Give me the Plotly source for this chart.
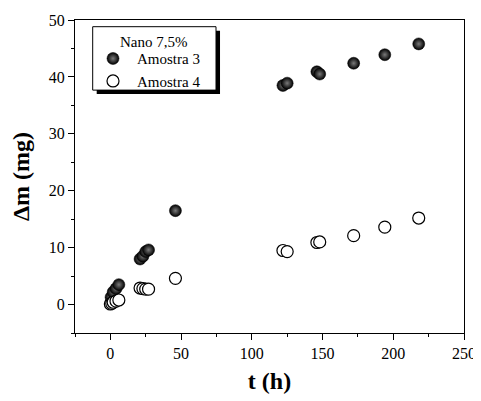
import plotly.graph_objects as go

t3 = [0.5, 2, 4, 6, 21, 23, 25, 27, 46, 122, 125, 146, 148, 172, 194, 218]
m3 = [1.3, 2.2, 2.8, 3.5, 8.0, 8.5, 9.3, 9.6, 16.5, 38.5, 38.9, 40.9, 40.5, 42.4, 43.9, 45.8]
t4 = [0, 1, 2, 4, 6, 21, 23, 25, 27, 46, 122, 125, 146, 148, 172, 194, 218]
m4 = [0.1, 0.2, 0.4, 0.6, 0.8, 2.9, 2.8, 2.7, 2.7, 4.6, 9.5, 9.3, 10.9, 11.0, 12.1, 13.6, 15.2]
legend_title = "Nano 7,5%"

font = "Liberation Serif"

fig = go.Figure()
fig.add_trace(go.Scatter(
    x=t3, y=m3, mode="markers", name="Amostra 3",
    marker=dict(size=12, color="#000000", line=dict(color="#000000", width=0.5),
                gradient=dict(type="radial", color="#7a7a7a")),
))
fig.add_trace(go.Scatter(
    x=t4, y=m4, mode="markers", name="Amostra 4",
    marker=dict(size=12, color="#ffffff", line=dict(color="#000000", width=1.2)),
))

# legend shadow and frame
fig.add_shape(type="rect", xref="paper", yref="paper",
              x0=0.0558, x1=0.3728, y0=0.7636, y1=0.9658,
              fillcolor="black", line=dict(width=0), layer="above")
fig.add_shape(type="rect", xref="paper", yref="paper",
              x0=0.0455, x1=0.3625, y0=0.776, y1=0.9786,
              fillcolor="white", line=dict(color="black", width=1), layer="above")
fig.add_annotation(text=legend_title, xref="paper", yref="paper",
                   x=0.204, y=0.9307, xanchor="center", yanchor="middle",
                   showarrow=False, font=dict(family=font, size=15, color="black"))

# page has an 8px body margin, so the figure is 8px smaller and left/top margins shifted
fig.update_layout(
    width=473, height=393,
    margin=dict(l=67, r=17, t=12, b=68),
    paper_bgcolor="white", plot_bgcolor="white",
    font=dict(family=font, size=16, color="black"),
    showlegend=True,
    legend=dict(
        x=0.036, y=0.929, xanchor="left", yanchor="top",
        bgcolor="rgba(0,0,0,0)", borderwidth=0,
        font=dict(family=font, size=15, color="black"),
        itemwidth=38, tracegroupgap=0,
    ),
    xaxis=dict(
        range=[-25, 250], tickvals=[0, 50, 100, 150, 200, 250], automargin=False,
        showgrid=False, zeroline=False, showline=True, linecolor="black", linewidth=1,
        mirror=True, ticks="outside", ticklen=6, tickwidth=1, tickcolor="black",
        minor=dict(tickvals=[-25, 25, 75, 125, 175, 225], ticks="outside", ticklen=3,
                   tickcolor="black", tickwidth=1),
        title=dict(text="<b>t (h)</b>", font=dict(family=font, size=24), standoff=10),
        tickfont=dict(family=font, size=16),
    ),
    yaxis=dict(
        range=[-5, 50], tickvals=[0, 10, 20, 30, 40, 50], automargin=False,
        showgrid=False, zeroline=False, showline=True, linecolor="black", linewidth=1,
        mirror=True, ticks="outside", ticklen=6, tickwidth=1, tickcolor="black",
        minor=dict(tickvals=[-5, 5, 15, 25, 35, 45], ticks="outside", ticklen=3,
                   tickcolor="black", tickwidth=1),
        title=dict(text="<b>Δm (mg)</b>", font=dict(family=font, size=24), standoff=12),
        tickfont=dict(family=font, size=16),
    ),
)

fig.write_html("out.html")
